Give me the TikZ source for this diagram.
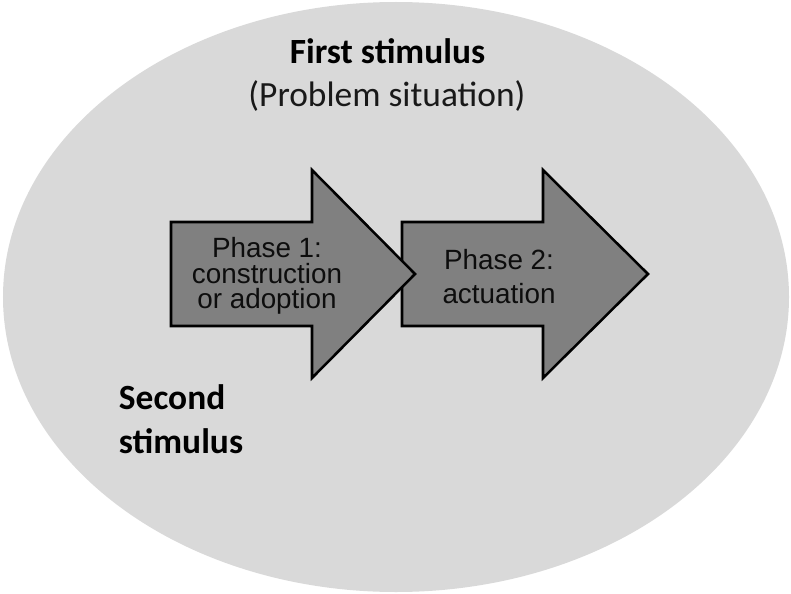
\documentclass[tikz,border=0pt]{standalone}
\usepackage{fontspec}
\setmainfont{Carlito}
\newfontfamily\arialfont{Liberation Sans}

\definecolor{ellipsegray}{HTML}{D9D9D9}
\definecolor{arrowgray}{HTML}{808080}

\begin{document}
\begin{tikzpicture}[phase/.style={fill=arrowgray, draw=black, line width=1.8pt, line join=miter},
                    phasetext/.style={font=\arialfont\fontsize{19.8}{18.1}\selectfont, align=center, text=black!95},
                    stimtext/.style={font=\fontsize{25.2}{30.6}\selectfont\bfseries}]
              \useasboundingbox (0,0) rectangle (19.775,14.825);
              % Background ellipse
              \fill[ellipsegray] (9.9,7.4) ellipse (9.825 and 7.375);
              % Phase arrows (second one first, the first tip lies over it)
              \draw[phase] (10.05,9.275)--(13.575,9.275)--(13.575,10.575)--(16.2,7.975)--(13.575,5.375)--(13.575,6.675)--(10.05,6.675)--cycle;
              \draw[phase] (4.275,9.275)--(7.8,9.275)--(7.8,10.575)--(10.375,7.975)--(7.8,5.375)--(7.8,6.675)--(4.275,6.675)--cycle;
              % Phase texts
              \node[phasetext] (phaseone) at (6.675,7.92) {Phase 1:\\construction\\or adoption};
              \node[phasetext, font=\arialfont\fontsize{19.8}{24.2}\selectfont] (phasetwo) at (12.475,7.92) {Phase 2:\\actuation};
              % Stimuli
              \node[stimtext, anchor=base] (firststim) at (9.6875,13.225) {First stimulus};
              \node[font=\fontsize{25.2}{30.6}\selectfont, anchor=base, text=black!90] (problem) at (9.675,12.15) {(Problem situation)};
              \node[stimtext, align=left, anchor=base west] (secondstim) at (2.85,3.5) {Second\\stimulus};

      \end{tikzpicture}
\end{document}
